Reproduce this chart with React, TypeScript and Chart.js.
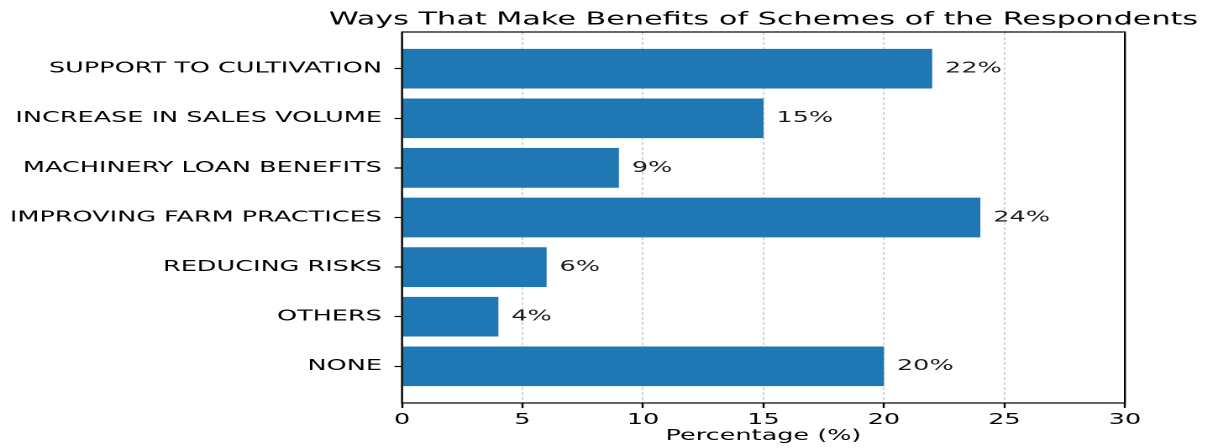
import React, { useEffect, useRef } from "react";
import { Chart, registerables } from "chart.js";

Chart.register(...registerables);

const categories = [
  "SUPPORT TO CULTIVATION",
  "INCREASE IN SALES VOLUME",
  "MACHINERY LOAN BENEFITS",
  "IMPROVING FARM PRACTICES",
  "REDUCING RISKS",
  "OTHERS",
  "NONE",
];
const percentages = [22, 15, 9, 24, 6, 4, 20];
const xTicks = [0, 5, 10, 15, 20, 25, 30];
const titleText = "Ways That Make Benefits of Schemes of the Respondents";
const xTitle = "Percentage (%)";

const STRETCH = 1.68;
const CW = 724;
const CH = 448;
const FONT = "'DejaVu Sans', sans-serif";
const TICK_SIZE = 15.2;

export default function App() {
  const ref = useRef<HTMLCanvasElement | null>(null);

  useEffect(() => {
    document.body.style.margin = "0";
    const canvas = ref.current;
    if (!canvas) return;

    const framePlugin = {
      id: "frameAndLabels",
      afterDraw(chart: any) {
        const { ctx, chartArea } = chart;
        const meta = chart.getDatasetMeta(0);
        ctx.save();
        ctx.font = `${TICK_SIZE}px ${FONT}`;
        ctx.fillStyle = "#1a1a1a";
        ctx.textAlign = "left";
        ctx.textBaseline = "middle";
        meta.data.forEach((el: any, i: number) => {
          ctx.fillText(`${percentages[i]}%`, el.x + 7.7, el.y);
        });
        ctx.strokeStyle = "#000";
        ctx.lineWidth = 1.2;
        ctx.setLineDash([]);
        ctx.strokeRect(
          chartArea.left,
          chartArea.top,
          chartArea.right - chartArea.left,
          chartArea.bottom - chartArea.top
        );
        ctx.restore();
      },
    };

    const chart = new Chart(canvas, {
      type: "bar",
      data: {
        datasets: [
          {
            data: percentages.map((v, i) => ({ x: v, y: i })),
            backgroundColor: "#1f77b4",
            borderWidth: 0,
            categoryPercentage: 1,
            barPercentage: 0.8,
          },
        ],
      },
      options: {
        indexAxis: "y",
        animation: false,
        responsive: false,
        devicePixelRatio: 2,
        layout: { padding: { left: 0, right: CW - 669.6, top: 0, bottom: 0 } },
        plugins: {
          legend: { display: false },
          tooltip: { enabled: false },
          title: {
            display: true,
            text: titleText,
            fullSize: false,
            color: "#000",
            font: { family: FONT, size: 18, weight: "normal", lineHeight: 1 },
            padding: { top: 10.8, bottom: 3.2 },
          },
        },
        scales: {
          x: {
            type: "linear",
            min: 0,
            max: 30,
            z: 1,
            afterBuildTicks: (axis: any) => {
              axis.ticks = xTicks.map((v) => ({ value: v }));
            },
            afterFit: (axis: any) => {
              axis.height = 45;
            },
            ticks: {
              color: "#000",
              font: { family: FONT, size: TICK_SIZE },
              padding: 3,
            },
            grid: {
              color: "rgba(160,160,160,0.45)",
              lineWidth: 1,
              drawTicks: true,
              tickLength: 5,
              tickColor: "#000",
              tickWidth: 1.2,
              tickBorderDash: [],
            },
            border: { display: false, dash: [3, 2] },
            title: {
              display: true,
              text: xTitle,
              color: "#000",
              font: { family: FONT, size: TICK_SIZE },
              padding: { top: 0, bottom: 3 },
            },
          },
          y: {
            type: "linear",
            min: -0.74,
            max: 6.74,
            reverse: true,
            offset: false,
            afterBuildTicks: (axis: any) => {
              axis.ticks = categories.map((_, i) => ({ value: i }));
            },
            afterFit: (axis: any) => {
              axis.width = 239.3;
            },
            ticks: {
              color: "#000",
              font: { family: FONT, size: TICK_SIZE },
              padding: 7.5,
              callback: (v: any) => categories[Number(v)] ?? "",
            },
            grid: {
              offset: false,
              drawOnChartArea: false,
              drawTicks: true,
              tickLength: 4.5,
              tickColor: "#000",
              tickWidth: 1.2,
            },
            border: { display: false },
          },
        },
      },
      plugins: [framePlugin],
    } as any);

    // Let the title run wider than the plot area (as in the reference),
    // keeping it centred over the plot.
    const tb = (chart as any).titleBlock;
    if (tb) {
      const orig = tb.draw.bind(tb);
      tb.draw = (...args: any[]) => {
        const l = tb.left;
        const r = tb.right;
        tb.left = l - 300;
        tb.right = r + 300;
        orig(...args);
        tb.left = l;
        tb.right = r;
      };
      chart.draw();
    }

    return () => chart.destroy();
  }, []);

  return (
    <div style={{ width: 1216, height: CH, overflow: "hidden", background: "#fff" }}>
      <div
        style={{
          width: CW,
          height: CH,
          transform: `scaleX(${STRETCH})`,
          transformOrigin: "0 0",
        }}
      >
        <canvas ref={ref} width={CW} height={CH} />
      </div>
    </div>
  );
}
